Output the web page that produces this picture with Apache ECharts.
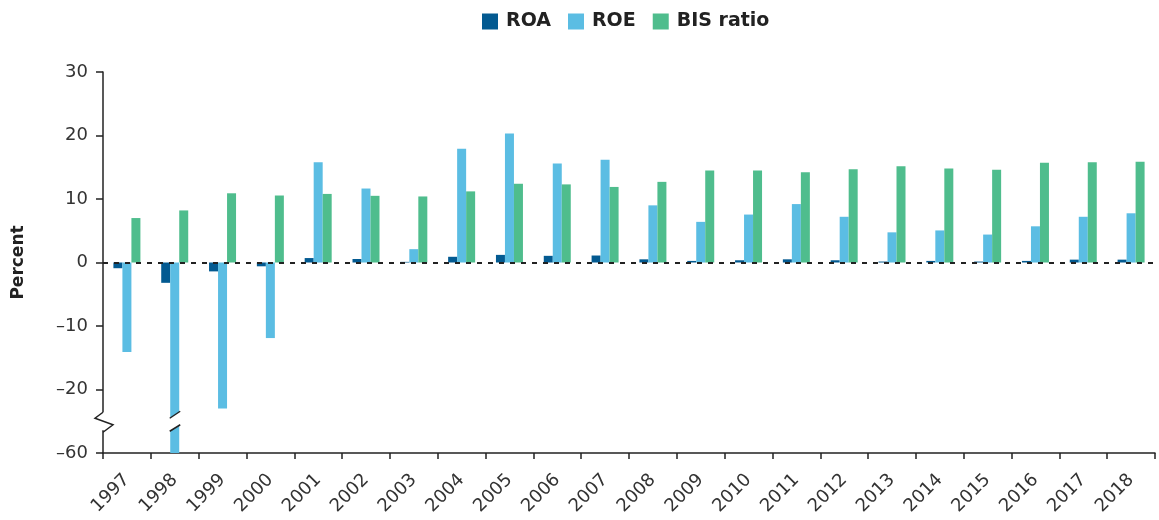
<!DOCTYPE html>
<html>
<head>
<meta charset="utf-8">
<title>ROA, ROE and BIS ratio</title>
<script src="https://cdn.jsdelivr.net/npm/echarts@6/dist/echarts.min.js"></script>
<style>
  html, body { margin: 0; padding: 0; background: #fff; }
  #chart { width: 1159px; height: 520px; }
</style>
</head>
<body>
<div id="chart"></div>
<script>
// Years on the category axis
const years = ['1997','1998','1999','2000','2001','2002','2003','2004','2005','2006','2007',
               '2008','2009','2010','2011','2012','2013','2014','2015','2016','2017','2018'];

// Return on assets, percent
const roa = [-0.9, -3.2, -1.4, -0.6, 0.7, 0.55, 0.1, 0.9, 1.2, 1.05, 1.1,
             0.5, 0.25, 0.35, 0.5, 0.35, 0.15, 0.25, 0.15, 0.25, 0.45, 0.45];

// Return on equity, percent
const roe = [-14.1, -60, -23.0, -11.9, 15.8, 11.65, 2.1, 17.9, 20.3, 15.6, 16.2,
             9.0, 6.4, 7.55, 9.2, 7.2, 4.75, 5.05, 4.4, 5.7, 7.2, 7.75];

// BIS capital adequacy ratio, percent
const bis = [7.0, 8.2, 10.9, 10.55, 10.8, 10.5, 10.4, 11.2, 12.4, 12.3, 11.9,
             12.7, 14.5, 14.5, 14.2, 14.7, 15.15, 14.8, 14.6, 15.7, 15.8, 15.85];

// Value-axis ticks; the axis is linear down to the break at -25,
// then the rest of the way to -60 is squeezed into half a step
const yTicks = [30, 20, 10, 0, -10, -20, -60];
const breakAt = -25, breakBottom = -60, squeezed = 5;

// Real value -> position on the drawn axis
function toAxis(v) {
  if (v >= breakAt) return v;
  return breakAt + (v - breakAt) * squeezed / (breakAt - breakBottom);
}
// Drawn axis position -> real value (for tick labels)
function fromAxis(p) {
  if (p >= breakAt) return p;
  return breakAt + (p - breakAt) * (breakAt - breakBottom) / squeezed;
}
function fmt(v) {
  const r = Math.round(v);
  return r < 0 ? '\u2013' + Math.abs(r) : String(r);
}

const FONT = '"DejaVu Sans", sans-serif';
const INK = '#222';
const COLORS = { roa: '#035a91', roe: '#5bbde3', bis: '#4fbd8d' };

const chart = echarts.init(document.getElementById('chart'), null, { renderer: 'canvas' });

const axisMin = toAxis(Math.min(...yTicks));
const axisMax = Math.max(...yTicks);

const barCommon = { type: 'bar', barWidth: 9, barGap: '0%' };

chart.setOption({
  animation: false,
  backgroundColor: '#fff',
  textStyle: { fontFamily: FONT },
  legend: {
    left: 482, top: 12, padding: 0,
    icon: 'rect', itemWidth: 16, itemHeight: 16, itemGap: 17,
    textStyle: { fontFamily: FONT, fontSize: 19, fontWeight: 'bold', color: INK, padding: [0, 0, 0, 3] },
    data: ['ROA', 'ROE', 'BIS ratio']
  },
  grid: { left: 103, right: 4, top: 72, bottom: 67, containLabel: false },
  xAxis: {
    type: 'category',
    data: years,
    boundaryGap: true,
    axisLine: { onZero: false, lineStyle: { color: INK, width: 1.5 } },
    axisTick: { show: true, length: 6, lineStyle: { color: INK, width: 1.5 } },
    axisLabel: { rotate: 45, margin: 24, fontSize: 18, color: '#333', fontFamily: FONT, interval: 0 },
    splitLine: { show: false }
  },
  yAxis: {
    type: 'value',
    min: axisMin, max: axisMax, interval: 10,
    name: 'Percent', nameLocation: 'middle', nameGap: 76, nameRotate: 90,
    nameTextStyle: { fontFamily: FONT, fontSize: 17, fontWeight: 'bold', color: INK },
    axisLine: { show: true, lineStyle: { color: INK, width: 1.5 } },
    axisTick: { show: true, length: 7, lineStyle: { color: INK, width: 1.5 } },
    axisLabel: { margin: 15, fontSize: 18, color: '#333', fontFamily: FONT,
                 formatter: function (p) { return fmt(fromAxis(p)); } },
    splitLine: { show: false }
  },
  series: [
    Object.assign({}, barCommon, { name: 'ROA', data: roa.map(toAxis), itemStyle: { color: COLORS.roa } }),
    Object.assign({}, barCommon, { name: 'ROE', data: roe.map(toAxis), itemStyle: { color: COLORS.roe } }),
    Object.assign({}, barCommon, {
      name: 'BIS ratio', data: bis.map(toAxis), itemStyle: { color: COLORS.bis },
      markLine: {
        silent: true, symbol: 'none', label: { show: false },
        lineStyle: { type: [5, 6], color: INK, width: 2 },
        data: [{ yAxis: 0 }]
      }
    })
  ]
});

// Break marks: a zigzag on the value axis and a slash gap through any bar crossing the break
function drawBreaks() {
  const midY = chart.convertToPixel({ yAxisIndex: 0 }, breakAt);
  const step = chart.convertToPixel({ xAxisIndex: 0 }, 1) - chart.convertToPixel({ xAxisIndex: 0 }, 0);
  const axisX = chart.convertToPixel({ xAxisIndex: 0 }, 0) - step / 2;
  const g = [];
  // zigzag on the axis
  g.push({ type: 'rect', shape: { x: axisX - 3, y: midY - 9, width: 6, height: 18 },
           style: { fill: '#fff' }, z: 100 });
  g.push({ type: 'polyline', z: 101,
           shape: { points: [[axisX, midY - 9], [axisX - 8, midY - 3], [axisX + 10, midY + 3.5], [axisX, midY + 11]] },
           style: { stroke: INK, lineWidth: 1.5, fill: null } });
  // slash gap on bars whose value runs past the break
  roe.forEach(function (v, i) {
    if (v < breakAt) {
      const cx = chart.convertToPixel({ xAxisIndex: 0 }, i);
      const x0 = cx - 5, x1 = cx + 5.5;
      g.push({ type: 'polygon', z: 100,
               shape: { points: [[x0, midY - 3], [x1, midY - 10], [x1, midY + 3.5], [x0, midY + 10]] },
               style: { fill: '#fff' } });
      g.push({ type: 'line', z: 101, shape: { x1: x0, y1: midY - 3, x2: x1, y2: midY - 10 },
               style: { stroke: INK, lineWidth: 1.5 } });
      g.push({ type: 'line', z: 101, shape: { x1: x0, y1: midY + 10, x2: x1, y2: midY + 3.5 },
               style: { stroke: INK, lineWidth: 1.5 } });
    }
  });
  chart.setOption({ graphic: g });
}
drawBreaks();
</script>
</body>
</html>
